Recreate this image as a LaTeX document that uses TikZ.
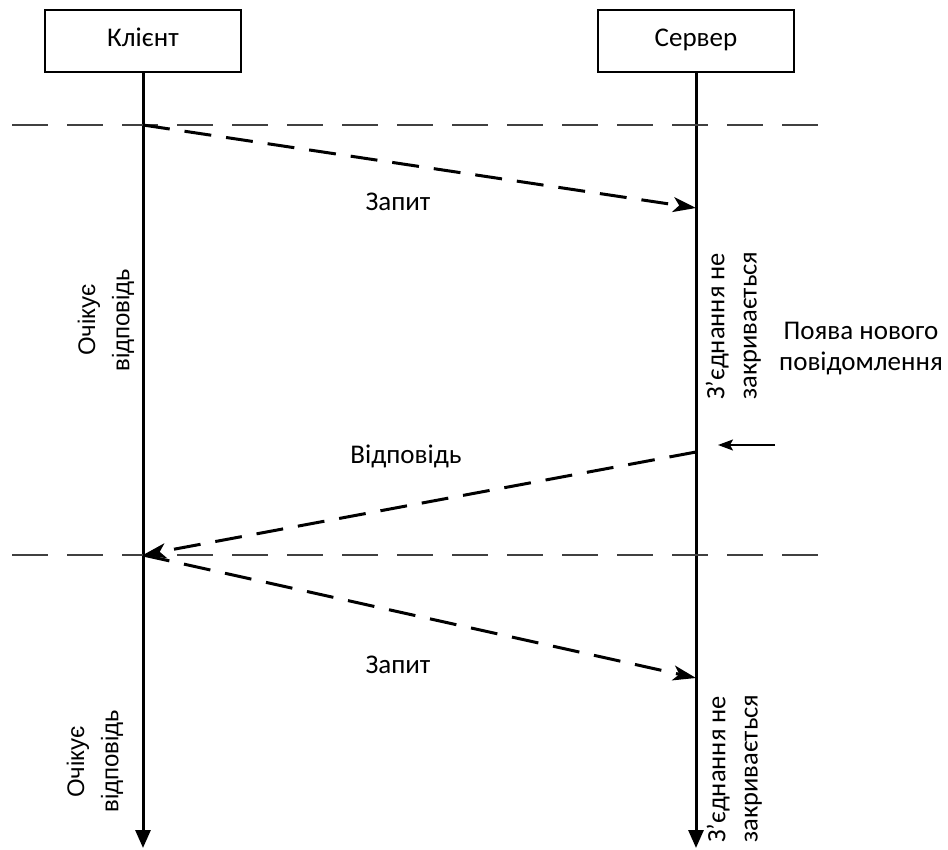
\documentclass[tikz,border=0pt]{standalone}
\usepackage{fontspec}
\setmainfont{Carlito}
\newfontfamily\arialike{Liberation Sans}
\usetikzlibrary{arrows.meta}

\begin{document}
\begin{tikzpicture}[x=1pt,y=-1pt,
  every node/.style={font=\fontsize{27}{32}\selectfont},
  actor/.style={draw,line width=2.3pt,minimum width=196pt,minimum height=62pt,inner sep=0pt,
    text height=18pt,text depth=6pt},
  lifeline/.style={line width=3pt,-{Triangle[length=18pt,width=15pt]}},
  phase/.style={draw=black!75,line width=2.2pt,dash pattern=on 36pt off 19pt},
  msg/.style={line width=3pt,dash pattern=on 27pt off 15pt,-{Stealth[length=23pt,width=15pt,inset=6pt]}},
  note/.style={line width=1.6pt,-{Stealth[length=15pt,width=11pt,inset=3pt]}},
  vlabel/.style={rotate=90,inner sep=0pt,font=\fontsize{26.5}{30}\selectfont},
  wlabel/.style={rotate=90,inner sep=0pt,font=\arialike\fontsize{24}{28}\selectfont}]
\useasboundingbox (0,0) rectangle (948,850);

% participants
\node[actor] (client) at (143,41) {Клієнт};
\node[actor] (server) at (696,41) {Сервер};

% lifelines
\coordinate (cend) at (143,848);
\coordinate (send) at (696,848);
\draw[lifeline] (client.south) -- (cend);
\draw[lifeline] (server.south) -- (send);

% phase separators
\coordinate (p1l) at (12,125);
\coordinate (p1r) at (818,125);
\coordinate (p2l) at (12,555);
\coordinate (p2r) at (818,555);
\draw[phase] (p1l) -- (p1r);
\draw[phase] (p2l) -- (p2r);

% message points on the lifelines
\coordinate (c1) at (143,125);
\coordinate (s1) at (696,208);
\coordinate (s2) at (696,452);
\coordinate (c2) at (143,555);
\coordinate (s3) at (696,678);

% messages
\draw[msg] (c1) -- (s1);
\draw[msg] (s2) -- (c2);
\draw[msg] (c2) -- (s3);
\node (q1) at (398,202) {Запит};
\node (r1) at (406,456) {Відповідь};
\node (q2) at (398,665) {Запит};

% new message event
\coordinate (evs) at (775,445);
\coordinate (eve) at (718,445);
\draw[note] (evs) -- (eve);
\node (ev1) at (861,331) {Поява нового};
\node (ev2) at (861,363) {повідомлення};

% client waiting notes
\node[wlabel] (w1a) at (89,320) {Очікує};
\node[wlabel] (w1b) at (123,320) {відповідь};
\node[wlabel] (w2a) at (78,762) {Очікує};
\node[wlabel] (w2b) at (112,761) {відповідь};

% server keeps the connection open
\node[vlabel,anchor=south west] (k1a) at (729,400) {З’єднання не};
\node[vlabel,anchor=south west] (k1b) at (761,400) {закривається};
\node[vlabel,anchor=south west] (k2a) at (730,843) {З’єднання не};
\node[vlabel,anchor=south west] (k2b) at (762,843) {закривається};
\end{tikzpicture}
\end{document}
